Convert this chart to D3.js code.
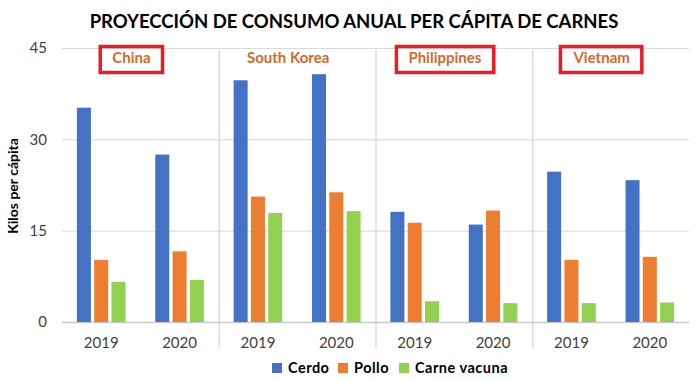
<!DOCTYPE html>
<html>
<head>
<meta charset="utf-8">
<script src="https://cdn.jsdelivr.net/npm/d3@7"></script>
<style>
  body { margin: 0; background: #fff; }
  svg { font-family: Lato, "Open Sans", sans-serif; }
</style>
</head>
<body>
<div id="chart"></div>
<script>
const countries = ["China", "South Korea", "Philippines", "Vietnam"];
const years = ["2019", "2020"];
const series = ["Cerdo", "Pollo", "Carne vacuna"];
// values per country, per year
const cerdo = [[35.2, 27.5], [39.7, 40.7], [18.1, 16.0], [24.7, 23.3]];
const pollo = [[10.2, 11.6], [20.6, 21.3], [16.3, 18.3], [10.2, 10.7]];
const vacuna = [[6.6, 6.9], [17.9, 18.2], [3.4, 3.1], [3.1, 3.2]];
const yTicks = [0, 15, 30, 45];
const boxed = ["China", "Philippines", "Vietnam"];

const width = 697, height = 382;
const margin = { top: 48, right: 8, bottom: 60, left: 62 };
const colors = d3.scaleOrdinal().domain(series).range(["#4472C4", "#ED7D31", "#92D050"]);

const rows = [];
countries.forEach((c, i) => {
    years.forEach((yr, j) => {
        rows.push({ key: c + "|" + yr, country: c, year: yr, values: [cerdo[i][j], pollo[i][j], vacuna[i][j]] });
    });
});

const svg = d3.select("#chart").append("svg")
    .attr("width", width)
    .attr("height", height);

const x0 = d3.scaleBand()
    .domain(rows.map(d => d.key))
    .range([margin.left, width - margin.right]);

const x1 = d3.scaleBand()
    .domain(series)
    .range([-24.3, 24.3])
    .paddingInner(0.19);

const y = d3.scaleLinear()
    .domain([0, 45])
    .range([height - margin.bottom, margin.top]);

// gridlines
svg.append("g")
    .selectAll("line")
    .data(yTicks)
    .join("line")
    .attr("x1", margin.left)
    .attr("x2", width - margin.right)
    .attr("y1", d => y(d) + 0.5)
    .attr("y2", d => y(d) + 0.5)
    .attr("stroke", d => d === 0 ? "#c9c9c9" : "#d9d9d9")
    .attr("stroke-width", d => d === 0 ? 1.5 : 1);

// y tick labels
svg.append("g")
    .selectAll("text")
    .data(yTicks)
    .join("text")
    .attr("x", 47)
    .attr("y", d => y(d))
    .attr("dy", "0.35em")
    .attr("text-anchor", "end")
    .attr("font-size", 15)
    .attr("fill", "#404040")
    .text(d => d);

// group separators
const groupStart = c => x0(c + "|" + years[0]);
svg.append("g")
    .selectAll("line")
    .data(countries.slice(1))
    .join("line")
    .attr("x1", d => groupStart(d) + 0.5)
    .attr("x2", d => groupStart(d) + 0.5)
    .attr("y1", margin.top + 2)
    .attr("y2", 348)
    .attr("stroke", "#c5ccd8")
    .attr("stroke-width", 1);

// bars
const grp = svg.append("g")
    .selectAll("g")
    .data(rows)
    .join("g")
    .attr("transform", d => `translate(${x0(d.key) + x0.bandwidth() / 2},0)`);

grp.selectAll("rect")
    .data(d => d.values.map((v, k) => ({ s: series[k], v })))
    .join("rect")
    .attr("x", d => x1(d.s))
    .attr("width", x1.bandwidth())
    .attr("y", d => y(d.v))
    .attr("height", d => y(0) - y(d.v))
    .attr("fill", d => colors(d.s));

// year labels
grp.append("text")
    .attr("y", 343)
    .attr("dy", "0.35em")
    .attr("text-anchor", "middle")
    .attr("font-size", 15)
    .attr("fill", "#404040")
    .text(d => d.year);

// country labels (sit a little left of the group centre in the original)
const countryCenter = c => groupStart(c) + x0.bandwidth() - 9;
const cl = svg.append("g")
    .selectAll("g")
    .data(countries)
    .join("g")
    .attr("transform", d => `translate(${countryCenter(d)},0)`);

cl.append("text")
    .attr("y", 58)
    .attr("dy", "0.35em")
    .attr("text-anchor", "middle")
    .attr("font-size", 15)
    .attr("font-weight", "bold")
    .attr("fill", "#D26A2C")
    .text(d => d);

cl.filter(d => boxed.includes(d)).each(function(d) {
    const t = d3.select(this).select("text").node().getBBox();
    d3.select(this).insert("rect", "text")
        .attr("x", t.x - 12)
        .attr("y", 46.5)
        .attr("width", t.width + 24)
        .attr("height", 26)
        .attr("fill", "none")
        .attr("stroke", "#ED1C24")
        .attr("stroke-width", 3.5);
});

// title
svg.append("text")
    .attr("x", 354)
    .attr("y", 22)
    .attr("dy", "0.35em")
    .attr("text-anchor", "middle")
    .attr("font-size", 18.5)
    .attr("font-weight", "bold")
    .attr("fill", "#000")
    .text("PROYECCIÓN DE CONSUMO ANUAL PER CÁPITA DE CARNES");

// y axis title
svg.append("text")
    .attr("transform", `translate(13,${186}) rotate(-90)`)
    .attr("dy", "0.35em")
    .attr("text-anchor", "middle")
    .attr("font-size", 14)
    .attr("font-weight", "bold")
    .attr("fill", "#000")
    .text("Kilos per cápita");

// legend
const legendX = [272, 338, 399];
const lg = svg.append("g")
    .selectAll("g")
    .data(series)
    .join("g")
    .attr("transform", (d, i) => `translate(${legendX[i]},368)`);

lg.append("rect")
    .attr("y", -5)
    .attr("width", 10)
    .attr("height", 10)
    .attr("fill", d => colors(d));

lg.append("text")
    .attr("x", 16)
    .attr("dy", "0.35em")
    .attr("font-size", 14.5)
    .attr("font-weight", "bold")
    .attr("letter-spacing", 0.5)
    .attr("fill", "#000")
    .text(d => d);
</script>
</body>
</html>
